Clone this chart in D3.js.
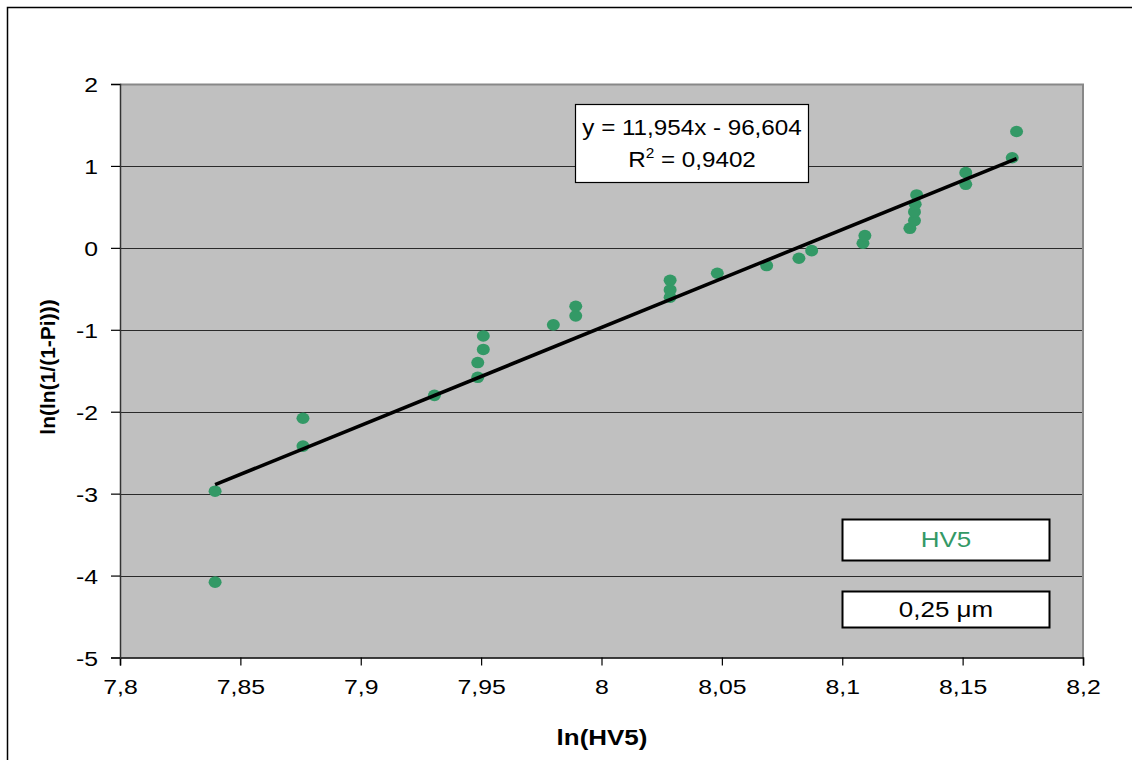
<!DOCTYPE html>
<html>
<head>
<meta charset="utf-8">
<script src="https://cdn.jsdelivr.net/npm/d3@7"></script>
<style>
  body { margin: 0; background: #fff; }
  svg text { font-family: "Liberation Sans", Arial, sans-serif; }
</style>
</head>
<body>
<div id="chart"></div>
<script>
// values (ln(HV5) vs ln(ln(1/(1-Pi))))
var lnHV = [7.8395, 7.8395, 7.876, 7.876, 7.9306, 7.9486, 7.9486, 7.9509, 7.9509,
            7.980, 7.9893, 7.9893, 8.0285, 8.0285, 8.0285, 8.0481, 8.0686, 8.082, 8.0873,
            8.1086, 8.1094, 8.1281, 8.130, 8.130, 8.1303, 8.1309, 8.1513, 8.1513, 8.1706, 8.1724];
var lnP  = [-2.97, -4.08, -2.08, -2.42, -1.80, -1.58, -1.40, -1.24, -1.075,
            -0.94, -0.83, -0.713, -0.603, -0.514, -0.396, -0.31, -0.216, -0.127, -0.034,
            0.056, 0.15, 0.239, 0.333, 0.438, 0.532, 0.646, 0.776, 0.918, 1.10, 1.42];

// trend line coefficients from the label
var slope = 11.954, intercept = -96.604, rSquared = 0.9402;

var xTicks = [7.8, 7.85, 7.9, 7.95, 8, 8.05, 8.1, 8.15, 8.2];
var yTicks = [2, 1, 0, -1, -2, -3, -4, -5];

var seriesName = "HV5";
var sizeLabel = "0,25 \u03bcm";

var W = 1132, H = 760;
var margin = {top: 84, left: 120},
    width = 1083 - 120,
    height = 657.5 - 84;
var stretch = 1.18; // the original text is horizontally widened

var fmt = d3.formatLocale({decimal: ",", thousands: ".", grouping: [3], currency: ["", ""], minus: "-"}).format("~g");

var x = d3.scaleLinear().domain([7.8, 8.2]).range([0, width]);
var y = d3.scaleLinear().domain([-5, 2]).range([height, 0]);

var svg = d3.select("#chart").append("svg")
  .attr("width", W).attr("height", H);

// outer chart border
svg.append("rect")
  .attr("x", 7.5).attr("y", 7.5).attr("width", 1140).attr("height", 780)
  .attr("fill", "none").attr("stroke", "#000").attr("stroke-width", 1.5);

var g = svg.append("g").attr("transform", "translate(" + margin.left + "," + margin.top + ")");

// plot area
g.append("rect").attr("width", width).attr("height", height).attr("fill", "#c0c0c0");

// gridlines
g.selectAll(".grid").data(yTicks.filter(function(d) { return d < 2 && d > -5; }))
  .enter().append("line")
  .attr("x1", 0).attr("x2", width)
  .attr("y1", function(d) { return Math.round(y(d)) + 0.5; })
  .attr("y2", function(d) { return Math.round(y(d)) + 0.5; })
  .attr("stroke", "#2a2a2a").attr("stroke-width", 1.2);

// plot border top/right (gray)
g.append("path")
  .attr("d", "M0," + 0.5 + "H" + width + "V" + height)
  .attr("fill", "none").attr("stroke", "#888").attr("stroke-width", 2);

// axes
var xAxis = g.append("g")
  .attr("transform", "translate(0," + height + ")")
  .call(d3.axisBottom(x).tickValues(xTicks).tickFormat(fmt).tickSizeOuter(0).tickSize(8).tickPadding(14));
xAxis.select(".domain").attr("stroke", "#000").attr("stroke-width", 1.5);
xAxis.selectAll(".tick line").attr("stroke", "#000").attr("stroke-width", 1.2);
xAxis.selectAll(".tick text")
  .attr("font-size", 21).attr("fill", "#000")
  .attr("font-family", "Liberation Sans, Arial, sans-serif")
  .attr("transform", "scale(" + stretch + ",1)");

var yAxis = g.append("g")
  .call(d3.axisLeft(y).tickValues(yTicks).tickFormat(fmt).tickSizeOuter(0).tickSize(9).tickPadding(0));
yAxis.select(".domain").attr("stroke", "#333").attr("stroke-width", 1.5);
yAxis.selectAll(".tick line").attr("stroke", "#000").attr("stroke-width", 1.2);
yAxis.selectAll(".tick text")
  .attr("font-size", 21).attr("fill", "#000")
  .attr("font-family", "Liberation Sans, Arial, sans-serif")
  .attr("x", -22 / stretch)
  .attr("dy", "0.36em")
  .attr("transform", "scale(" + stretch + ",1)");

// points
var pts = lnHV.map(function(v, i) { return {x: v, y: lnP[i]}; });
g.selectAll(".pt").data(pts).enter().append("ellipse")
  .attr("cx", function(d) { return x(d.x); })
  .attr("cy", function(d) { return y(d.y); })
  .attr("rx", 6.5).attr("ry", 5.8)
  .attr("fill", "#339966");

// linear trend line over the data range
var xr = d3.extent(lnHV);
var line = d3.line()
  .x(function(d) { return x(d); })
  .y(function(d) { return y(slope * d + intercept); });
g.append("path").datum(xr)
  .attr("d", line)
  .attr("fill", "none").attr("stroke", "#000").attr("stroke-width", 3.6);

// trend equation label
var eq = svg.append("g");
eq.append("rect")
  .attr("x", 575.5).attr("y", 104.5).attr("width", 233).attr("height", 78)
  .attr("fill", "#fff").attr("stroke", "#000").attr("stroke-width", 1.2);
var eqText = eq.append("g").attr("transform", "translate(692,0) scale(1.1,1)");
eqText.append("text")
  .attr("x", 0).attr("y", 135).attr("text-anchor", "middle").attr("font-size", 22)
  .text("y = " + fmt(slope) + "x - " + fmt(-intercept));
var r2 = eqText.append("text")
  .attr("x", 0).attr("y", 167).attr("text-anchor", "middle").attr("font-size", 22);
r2.append("tspan").text("R");
r2.append("tspan").attr("dy", -9).attr("font-size", 14).text("2");
r2.append("tspan").attr("dy", 9).text(" = " + fmt(rSquared));

// legend boxes
svg.append("rect")
  .attr("x", 842.5).attr("y", 519.5).attr("width", 207).attr("height", 41)
  .attr("fill", "#fff").attr("stroke", "#000").attr("stroke-width", 2);
svg.append("g").attr("transform", "translate(946,547) scale(" + stretch + ",1)")
  .append("text").attr("text-anchor", "middle").attr("font-size", 22)
  .attr("fill", "#339966").text(seriesName);

svg.append("rect")
  .attr("x", 842.5).attr("y", 591.5).attr("width", 207).attr("height", 36)
  .attr("fill", "#fff").attr("stroke", "#000").attr("stroke-width", 2);
svg.append("g").attr("transform", "translate(946,617) scale(" + stretch + ",1)")
  .append("text").attr("text-anchor", "middle").attr("font-size", 22)
  .attr("fill", "#000").text(sizeLabel);

// axis titles
svg.append("g").attr("transform", "translate(602,745) scale(" + stretch + ",1)")
  .append("text").attr("text-anchor", "middle").attr("font-size", 22)
  .attr("font-weight", "bold").text("ln(HV5)");
svg.append("g").attr("transform", "translate(55,367) rotate(-90)")
  .append("text").attr("text-anchor", "middle").attr("font-size", 21)
  .attr("font-weight", "bold").text("ln(ln(1/(1-Pi)))");
</script>
</body>
</html>
